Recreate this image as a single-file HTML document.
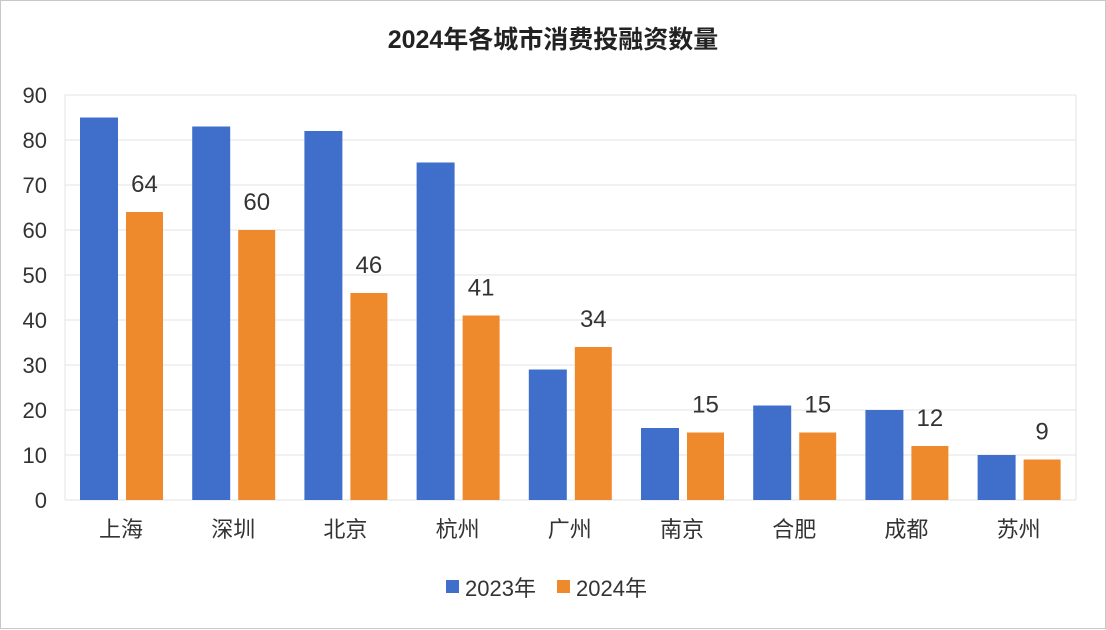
<!DOCTYPE html>
<html><head><meta charset="utf-8"><style>
body{margin:0;background:#fff;}
svg{display:block;font-family:"Liberation Sans","Noto Sans CJK SC",sans-serif;}
</style></head><body>
<svg width="1106" height="630" viewBox="0 0 1106 630">
<rect x="0.5" y="0.5" width="1105" height="628" fill="#fff" stroke="#c8c8c8"/>
<text x="553" y="48" text-anchor="middle" font-size="25" font-weight="bold" fill="#222">2024年各城市消费投融资数量</text>
<g stroke="#e3e3e3" stroke-width="1">
<line x1="65" x2="1076" y1="95" y2="95"/><line x1="65" x2="1076" y1="140" y2="140"/>
<line x1="65" x2="1076" y1="185" y2="185"/><line x1="65" x2="1076" y1="230" y2="230"/>
<line x1="65" x2="1076" y1="275" y2="275"/><line x1="65" x2="1076" y1="320" y2="320"/>
<line x1="65" x2="1076" y1="365" y2="365"/><line x1="65" x2="1076" y1="410" y2="410"/>
<line x1="65" x2="1076" y1="455" y2="455"/><line x1="65" x2="1076" y1="500" y2="500"/>
<line x1="65" x2="65" y1="95" y2="500"/><line x1="1076" x2="1076" y1="95" y2="500"/>
</g>
<g font-size="22" fill="#333" text-anchor="end">
<text x="47" y="103">90</text><text x="47" y="148">80</text><text x="47" y="193">70</text>
<text x="47" y="238">60</text><text x="47" y="283">50</text><text x="47" y="328">40</text>
<text x="47" y="373">30</text><text x="47" y="418">20</text><text x="47" y="463">10</text>
<text x="47" y="508">0</text>
</g>
<g fill="#3f6fca">
<rect x="80" y="117.5" width="38" height="382.5"/>
<rect x="192.2" y="126.5" width="38" height="373.5"/>
<rect x="304.4" y="131" width="38" height="369"/>
<rect x="416.6" y="162.5" width="38" height="337.5"/>
<rect x="528.8" y="369.5" width="38" height="130.5"/>
<rect x="641" y="428" width="38" height="72"/>
<rect x="753.2" y="405.5" width="38" height="94.5"/>
<rect x="865.4" y="410" width="38" height="90"/>
<rect x="977.6" y="455" width="38" height="45"/>
</g>
<g fill="#ee8a2c">
<rect x="126" y="212" width="37" height="288"/>
<rect x="238.2" y="230" width="37" height="270"/>
<rect x="350.4" y="293" width="37" height="207"/>
<rect x="462.6" y="315.5" width="37" height="184.5"/>
<rect x="574.8" y="347" width="37" height="153"/>
<rect x="687" y="432.5" width="37" height="67.5"/>
<rect x="799.2" y="432.5" width="37" height="67.5"/>
<rect x="911.4" y="446" width="37" height="54"/>
<rect x="1023.6" y="459.5" width="37" height="40.5"/>
</g>
<g font-size="24" fill="#333" text-anchor="middle">
<text x="144.5" y="192">64</text><text x="256.7" y="210">60</text><text x="368.9" y="273">46</text>
<text x="481.1" y="295.5">41</text><text x="593.3" y="327">34</text><text x="705.5" y="412.5">15</text>
<text x="817.7" y="412.5">15</text><text x="929.9" y="426">12</text><text x="1042.1" y="439.5">9</text>
</g>
<g font-size="22" fill="#333" text-anchor="middle">
<text x="121" y="537">上海</text><text x="233.2" y="537">深圳</text><text x="345.4" y="537">北京</text>
<text x="457.6" y="537">杭州</text><text x="569.8" y="537">广州</text><text x="682" y="537">南京</text>
<text x="794.2" y="537">合肥</text><text x="906.4" y="537">成都</text><text x="1018.6" y="537">苏州</text>
</g>
<g font-size="22" fill="#333"><rect x="446" y="580" width="13" height="13" fill="#3f6fca"/><text x="465" y="596">2023年</text>
<rect x="557" y="580" width="13" height="13" fill="#ee8a2c"/><text x="576" y="596">2024年</text></g>
</svg>
</body></html>
